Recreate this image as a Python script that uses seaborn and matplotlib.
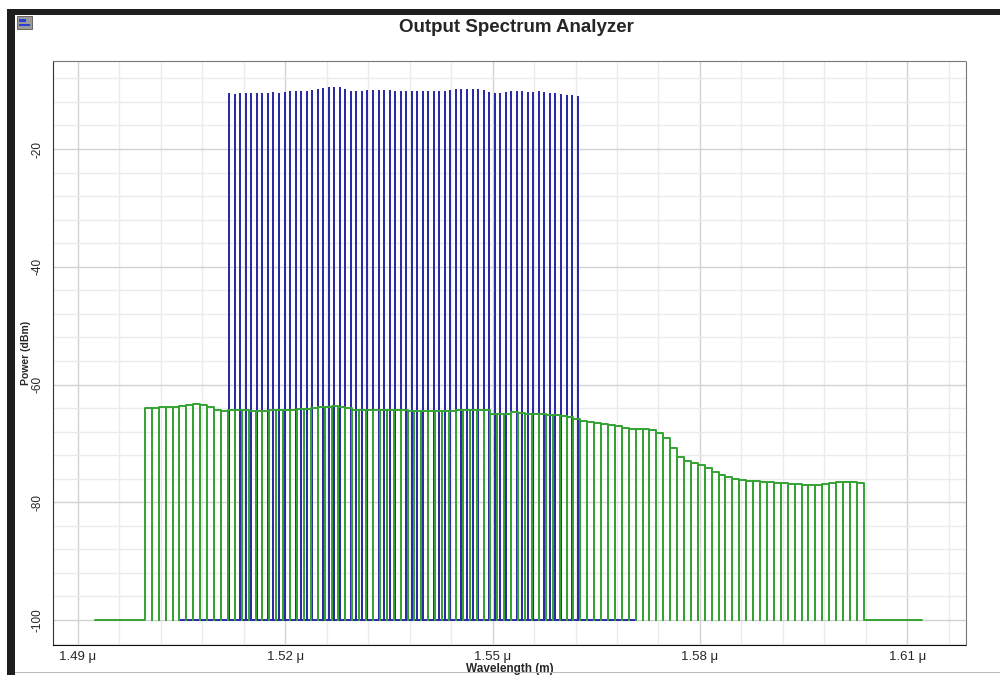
import numpy as np
import pandas as pd
import matplotlib.pyplot as plt
import seaborn as sns
from matplotlib.ticker import FixedLocator, MultipleLocator
from matplotlib.patches import Rectangle

# ==========================
# Data read off the analyzer
# ==========================
# signal channels (nm) and their peak power (dBm)
channel_nm = [
    1511.9, 1512.7, 1513.5, 1514.3, 1515.1, 1515.9, 1516.7, 1517.5, 1518.3, 1519.1,
    1519.9, 1520.7, 1521.5, 1522.3, 1523.1, 1523.9, 1524.7, 1525.5, 1526.3, 1527.1,
    1527.9, 1528.7, 1529.5, 1530.3, 1531.1, 1531.9, 1532.7, 1533.5, 1534.3, 1535.1,
    1535.9, 1536.7, 1537.5, 1538.3, 1539.1, 1539.9, 1540.7, 1541.5, 1542.3, 1543.1,
    1543.9, 1544.7, 1545.5, 1546.3, 1547.1, 1547.9, 1548.7, 1549.5, 1550.3, 1551.1,
    1551.9, 1552.7, 1553.5, 1554.3, 1555.1, 1555.9, 1556.7, 1557.5, 1558.3, 1559.1,
    1559.9, 1560.7, 1561.5, 1562.3,
]
channel_dbm = [
    -10.73, -10.85, -10.73, -10.73, -10.73, -10.73, -10.73, -10.68, -10.56, -10.62,
    -10.45, -10.39, -10.34, -10.34, -10.23, -10.06, -9.89, -9.72, -9.55, -9.66,
    -9.66, -9.89, -10.34, -10.34, -10.34, -10.17, -10.17, -10.17, -10.17, -10.17,
    -10.34, -10.34, -10.34, -10.34, -10.34, -10.34, -10.34, -10.34, -10.34, -10.34,
    -10.17, -10.0, -9.89, -9.89, -9.89, -9.89, -10.17, -10.45, -10.62, -10.62,
    -10.45, -10.34, -10.34, -10.34, -10.45, -10.45, -10.39, -10.56, -10.62, -10.62,
    -10.79, -11.02, -11.02, -11.19,
]
signal_span_nm = [1504.7, 1570.6]

# noise bins: left edge (nm), 1 nm wide, power (dBm)
noise_left_nm = [
    1499.7, 1500.7, 1501.7, 1502.7, 1503.7, 1504.7, 1505.7, 1506.7, 1507.7, 1508.7,
    1509.7, 1510.7, 1511.7, 1512.7, 1513.7, 1514.7, 1515.7, 1516.7, 1517.7, 1518.7,
    1519.7, 1520.7, 1521.7, 1522.7, 1523.7, 1524.7, 1525.7, 1526.7, 1527.7, 1528.7,
    1529.7, 1530.7, 1531.7, 1532.7, 1533.7, 1534.7, 1535.7, 1536.7, 1537.7, 1538.7,
    1539.7, 1540.7, 1541.7, 1542.7, 1543.7, 1544.7, 1545.7, 1546.7, 1547.7, 1548.7,
    1549.7, 1550.7, 1551.7, 1552.7, 1553.7, 1554.7, 1555.7, 1556.7, 1557.7, 1558.7,
    1559.7, 1560.7, 1561.7, 1562.7, 1563.7, 1564.7, 1565.7, 1566.7, 1567.7, 1568.7,
    1569.7, 1570.7, 1571.7, 1572.7, 1573.7, 1574.7, 1575.7, 1576.7, 1577.7, 1578.7,
    1579.7, 1580.7, 1581.7, 1582.7, 1583.7, 1584.7, 1585.7, 1586.7, 1587.7, 1588.7,
    1589.7, 1590.7, 1591.7, 1592.7, 1593.7, 1594.7, 1595.7, 1596.7, 1597.7, 1598.7,
    1599.7, 1600.7, 1601.7, 1602.7,
]
noise_dbm = [
    -63.95, -63.95, -63.8, -63.8, -63.8, -63.6, -63.45, -63.3, -63.5, -63.85,
    -64.3, -64.45, -64.4, -64.35, -64.4, -64.45, -64.45, -64.45, -64.4, -64.3,
    -64.25, -64.25, -64.2, -64.1, -64.0, -63.9, -63.8, -63.7, -63.8, -63.95,
    -64.3, -64.4, -64.3, -64.25, -64.3, -64.35, -64.4, -64.4, -64.5, -64.55,
    -64.55, -64.55, -64.55, -64.55, -64.5, -64.4, -64.35, -64.3, -64.25, -64.25,
    -64.95, -65.05, -64.95, -64.7, -64.8, -64.95, -65.08, -65.08, -65.14, -65.25,
    -65.37, -65.48, -65.82, -66.16, -66.33, -66.5, -66.78, -66.89, -67.06, -67.34,
    -67.51, -67.51, -67.51, -67.74, -68.19, -69.04, -70.73, -72.32, -72.99, -73.28,
    -73.73, -74.24, -74.8, -75.31, -75.71, -75.99, -76.16, -76.33, -76.44, -76.5,
    -76.55, -76.67, -76.78, -76.84, -76.89, -77.12, -77.12, -77.0, -76.84, -76.67,
    -76.55, -76.55, -76.55, -76.67,
]
noise_bin_nm = 1.0
noise_span_nm = [1492.5, 1612.2]

floor_dbm = -100

x_ticks = [1.49, 1.52, 1.55, 1.58, 1.61]
x_labels = ["1.49 \u03bc", "1.52 \u03bc", "1.55 \u03bc", "1.58 \u03bc", "1.61 \u03bc"]
y_ticks = [-100, -80, -60, -40, -20]
y_labels = ["-100", "-80", "-60", "-40", "-20"]

# ==========================
# Build the traces
# ==========================
bx, by = [signal_span_nm[0]], [floor_dbm]
for c, v in zip(channel_nm, channel_dbm):
    bx += [c, c, c]
    by += [floor_dbm, v, floor_dbm]
bx.append(signal_span_nm[1])
by.append(floor_dbm)

gx, gy = [noise_span_nm[0]], [floor_dbm]
for l, v in zip(noise_left_nm, noise_dbm):
    r = l + noise_bin_nm
    gx += [l, l, r, r]
    gy += [floor_dbm, v, v, floor_dbm]
gx.append(noise_span_nm[1])
gy.append(floor_dbm)

df = pd.concat([
    pd.DataFrame({"wl": np.array(bx) / 1000, "pw": by, "trace": "signal"}),
    pd.DataFrame({"wl": np.array(gx) / 1000, "pw": gy, "trace": "noise"}),
], ignore_index=True)

# ==========================
# Plot
# ==========================
sns.set_style("white")
plt.rcParams["font.family"] = ["Liberation Sans", "DejaVu Sans"]

fig = plt.figure(figsize=(10, 6.75), dpi=100)
ax = fig.add_axes([0.053, 0.0444, 0.913, 0.8652])

sns.lineplot(
    data=df,
    x="wl",
    y="pw",
    hue="trace",
    hue_order=["signal", "noise"],
    palette={"signal": "#2b2ba6", "noise": "#34a334"},
    estimator=None,
    sort=False,
    legend=False,
    linewidth=1.4,
    ax=ax
)

ax.set_xlim(1.4864, 1.6185)
ax.set_ylim(-104.25, -5.05)

ax.xaxis.set_major_locator(FixedLocator(x_ticks))
ax.set_xticklabels(x_labels)
ax.xaxis.set_minor_locator(FixedLocator([1.49 + 0.006 * k for k in range(22)]))
ax.yaxis.set_major_locator(FixedLocator(y_ticks))
ax.set_yticklabels(y_labels, rotation=90, va="center")
ax.yaxis.set_minor_locator(MultipleLocator(4))

ax.grid(which="major", color="#d2d2d2", linewidth=1.0)
ax.grid(which="minor", color="#ebebeb", linewidth=1.0)
ax.set_axisbelow(True)

ax.tick_params(axis="y", which="major", direction="inout", length=9, width=1,
               color="#333333", labelsize=8.5, pad=2)
ax.tick_params(axis="y", which="minor", direction="out", length=4, width=1,
               color="#333333")
ax.tick_params(axis="x", which="both", direction="inout", length=3, width=1,
               color="#222222", labelsize=9.5, pad=3)

for side in ["top", "right"]:
    ax.spines[side].set_linestyle((0, (1, 1)))
    ax.spines[side].set_color("#777777")
ax.spines["bottom"].set_linestyle((0, (1, 1)))
ax.spines["bottom"].set_color("#111111")
ax.spines["left"].set_color("#333333")

ax.set_xlabel("Wavelength (m)", fontsize=8.5, fontweight="bold")
ax.xaxis.set_label_coords(0.5, -0.041)
ax.xaxis.label.set_va("center")
ax.set_ylabel("Power (dBm)", fontsize=7.5, fontweight="bold")
ax.yaxis.set_label_coords(-0.03, 0.5)
ax.yaxis.label.set_va("center")

fig.text(0.516, 1 - 28 / 675, "Output Spectrum Analyzer",
         ha="center", va="center", fontsize=13.5, fontweight="bold")

# window frame and icon
fig.add_artist(Rectangle((0.007, 0.978), 0.993, 0.008, transform=fig.transFigure,
                         color="#1e1e1e", lw=0))
fig.add_artist(Rectangle((0.007, 0), 0.008, 0.986, transform=fig.transFigure,
                         color="#1e1e1e", lw=0))
fig.add_artist(Rectangle((0.015, 0.0025), 0.985, 0.0015, transform=fig.transFigure,
                         color="#bbbbbb", lw=0))
fig.add_artist(Rectangle((0.017, 0.957), 0.015, 0.019, transform=fig.transFigure,
                         facecolor="#9a9a9a", edgecolor="#555555", lw=0.6))
fig.add_artist(Rectangle((0.019, 0.968), 0.007, 0.004, transform=fig.transFigure,
                         color="#2a3fd8", lw=0))
fig.add_artist(Rectangle((0.019, 0.961), 0.011, 0.004, transform=fig.transFigure,
                         color="#2a3fd8", lw=0))

fig.savefig("out.png", dpi=100)
